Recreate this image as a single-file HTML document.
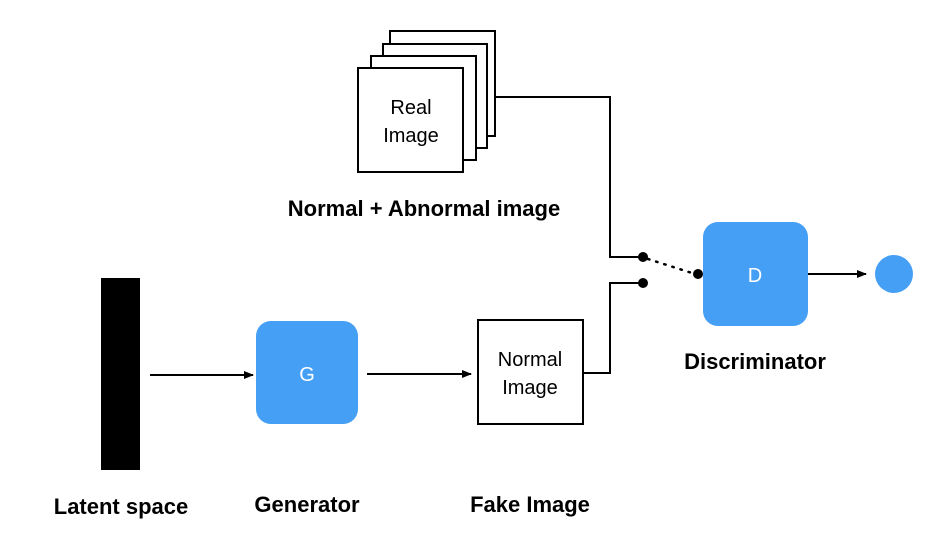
<!DOCTYPE html>
<html><head><style>
body{margin:0;background:#fff;}
svg{display:block;font-family:"Liberation Sans",Arial,sans-serif;}
</style></head><body>
<svg width="925" height="549" viewBox="0 0 925 549" xmlns="http://www.w3.org/2000/svg">
<defs><marker id="a" markerWidth="10" markerHeight="8" refX="9" refY="4" orient="auto" markerUnits="userSpaceOnUse"><path d="M0,0 L10,4 L0,8 Z" fill="#000"/></marker></defs>
<g fill="#fff" stroke="#000" stroke-width="2">
<rect x="390" y="31" width="105" height="105"/>
<rect x="383" y="44" width="104" height="104"/>
<rect x="371" y="56" width="105" height="104"/>
<rect x="358" y="68" width="105" height="104"/>
</g>
<text x="411" y="114" font-size="20" text-anchor="middle">Real</text>
<text x="411" y="142" font-size="20" text-anchor="middle">Image</text>
<polyline points="495,97 610,97 610,257 643,257" fill="none" stroke="#000" stroke-width="2"/>
<polyline points="583,373 610,373 610,283 643,283" fill="none" stroke="#000" stroke-width="2"/>
<circle cx="643" cy="257" r="5" fill="#000"/>
<circle cx="643" cy="283" r="5" fill="#000"/>
<line x1="648" y1="259" x2="692" y2="273" stroke="#000" stroke-width="2.5" stroke-dasharray="1.5,7" stroke-linecap="round"/>
<circle cx="698" cy="274" r="5" fill="#000"/>
<rect x="703" y="222" width="105" height="104" rx="15" fill="#459ff5"/>
<text x="755" y="282" font-size="20" fill="#fff" text-anchor="middle">D</text>
<line x1="808" y1="274" x2="866" y2="274" stroke="#000" stroke-width="2" marker-end="url(#a)"/>
<circle cx="894" cy="274" r="19" fill="#459ff5"/>
<rect x="101" y="278" width="39" height="192" fill="#000"/>
<line x1="150" y1="375" x2="253" y2="375" stroke="#000" stroke-width="2" marker-end="url(#a)"/>
<rect x="256" y="321" width="102" height="103" rx="15" fill="#459ff5"/>
<text x="307" y="381" font-size="20" fill="#fff" text-anchor="middle">G</text>
<line x1="367" y1="374" x2="471" y2="374" stroke="#000" stroke-width="2" marker-end="url(#a)"/>
<rect x="478" y="320" width="105" height="104" fill="#fff" stroke="#000" stroke-width="2"/>
<text x="530" y="366" font-size="20" text-anchor="middle">Normal</text>
<text x="530" y="394" font-size="20" text-anchor="middle">Image</text>
<g font-size="22" font-weight="bold" text-anchor="middle">
<text x="424" y="216">Normal + Abnormal image</text>
<text x="755" y="369">Discriminator</text>
<text x="121" y="514">Latent space</text>
<text x="307" y="512">Generator</text>
<text x="530" y="512">Fake Image</text>
</g>
</svg>
</body></html>
